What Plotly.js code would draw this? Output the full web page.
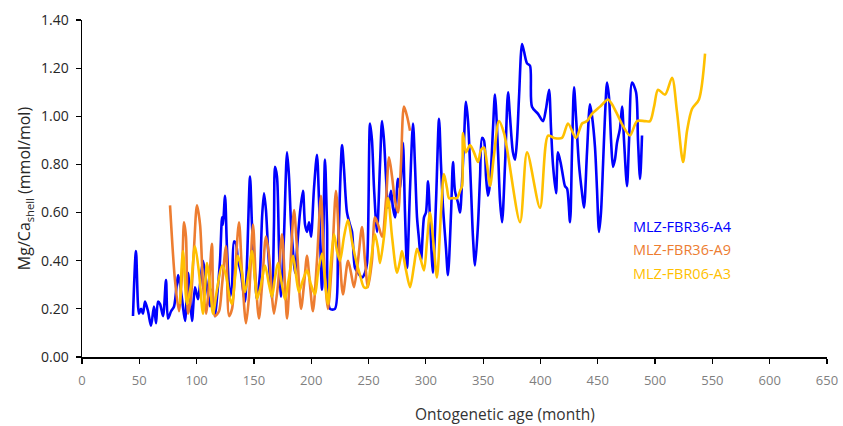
<!DOCTYPE html>
<html>
<head>
<meta charset="utf-8">
<script src="https://cdn.plot.ly/plotly-3.0.1.min.js"></script>
<style>
  html, body { margin: 0; padding: 0; background: #ffffff; }
  #chart { width: 843px; height: 426px; }
</style>
</head>
<body>
<div id="chart"></div>
<script>
// Mg/Ca ratios of shell carbonate against ontogenetic age, three specimens.

const seriesNames = ["MLZ-FBR36-A4", "MLZ-FBR36-A9", "MLZ-FBR06-A3"];
const seriesColors = ["#0000FF", "#ED7D31", "#FFC000"];

// MLZ-FBR36-A4
const ageA4 = [44.5, 47.1, 49.7, 51.5, 53.2, 55.0, 57.6, 60.2, 62.8, 64.6, 66.3, 68.1, 70.7, 73.3, 75.0, 77.7, 80.3, 83.8, 85.5, 87.3,
  89.9, 92.5, 94.2, 96.0, 98.6, 101.2, 103.0, 105.6, 108.2, 109.9, 111.7, 113.4, 116.0, 117.8, 120.4, 122.2, 123.0, 124.8, 126.5, 129.1,
  130.9, 132.6, 134.4, 136.1, 138.7, 140.5, 142.2, 144.0, 146.6, 148.3, 150.1, 152.7, 155.3, 157.1, 158.8, 160.5, 162.3, 164.0, 165.8, 167.5,
  168.4, 170.1, 171.9, 173.6, 176.2, 178.9, 180.6, 182.4, 184.1, 185.8, 187.6, 190.2, 192.8, 194.6, 196.3, 198.1, 199.8, 202.4, 205.0, 206.8,
  209.4, 212.0, 213.8, 216.4, 220.7, 223.4, 226.9, 228.6, 231.2, 233.8, 235.6, 238.2, 240.8, 244.3, 246.9, 248.7, 251.3, 253.0, 254.8, 257.4,
  260.0, 261.8, 263.5, 265.2, 267.0, 269.6, 271.3, 273.1, 275.7, 277.5, 279.2, 280.1, 281.8, 283.6, 286.2, 288.8, 290.5, 292.3, 294.0, 295.8,
  298.4, 300.1, 301.9, 303.6, 306.2, 308.9, 311.5, 313.2, 315.0, 317.6, 319.3, 322.0, 323.7, 325.4, 328.1, 329.8, 331.6, 333.3, 335.0, 336.8,
  339.4, 341.1, 342.9, 345.5, 347.3, 349.0, 350.7, 352.5, 354.2, 356.0, 358.6, 360.3, 363.0, 364.7, 366.5, 369.1, 371.7, 373.4, 376.0, 377.8,
  379.5, 381.3, 383.9, 385.6, 388.3, 390.9, 392.6, 397.9, 402.2, 404.8, 407.5, 409.2, 410.9, 413.6, 415.3, 417.9, 419.7, 421.4, 423.2, 425.8,
  427.5, 429.3, 431.0, 433.6, 436.3, 438.0, 440.6, 443.2, 445.0, 447.6, 449.3, 451.1, 452.8, 454.6, 456.3, 458.1, 459.8, 461.6, 463.3, 465.0,
  466.8, 469.4, 471.2, 472.9, 475.5, 477.3, 479.9, 483.4, 485.1, 486.9, 488.6];
const mgA4 = [0.17, 0.44, 0.18, 0.20, 0.18, 0.23, 0.19, 0.13, 0.21, 0.14, 0.23, 0.22, 0.17, 0.32, 0.16, 0.19, 0.21, 0.34, 0.30, 0.24,
  0.15, 0.35, 0.25, 0.15, 0.29, 0.24, 0.30, 0.40, 0.32, 0.26, 0.21, 0.28, 0.17, 0.25, 0.40, 0.58, 0.55, 0.67, 0.45, 0.25,
  0.30, 0.48, 0.47, 0.40, 0.35, 0.28, 0.23, 0.40, 0.75, 0.55, 0.40, 0.24, 0.35, 0.58, 0.68, 0.61, 0.45, 0.33, 0.24, 0.55,
  0.79, 0.75, 0.45, 0.25, 0.50, 0.85, 0.75, 0.55, 0.44, 0.35, 0.45, 0.60, 0.69, 0.55, 0.52, 0.56, 0.50, 0.70, 0.84, 0.65,
  0.28, 0.82, 0.55, 0.20, 0.20, 0.45, 0.88, 0.78, 0.60, 0.55, 0.52, 0.37, 0.35, 0.33, 0.35, 0.39, 0.97, 0.90, 0.70, 0.52,
  0.80, 0.98, 0.90, 0.75, 0.62, 0.69, 0.62, 0.58, 0.74, 0.70, 0.82, 0.89, 0.60, 0.37, 0.70, 0.97, 0.80, 0.58, 0.49, 0.40,
  0.58, 0.60, 0.73, 0.58, 0.35, 0.65, 0.99, 0.80, 0.62, 0.45, 0.34, 0.60, 0.81, 0.69, 0.64, 0.60, 0.73, 0.90, 1.06, 0.98,
  0.70, 0.50, 0.38, 0.55, 0.75, 0.91, 0.90, 0.75, 0.67, 0.72, 0.95, 1.09, 0.85, 0.65, 0.56, 0.80, 1.10, 1.00, 0.85, 0.82,
  0.90, 1.08, 1.30, 1.27, 1.22, 1.21, 1.04, 1.01, 0.98, 1.03, 1.11, 0.95, 0.80, 0.68, 0.85, 0.80, 0.75, 0.71, 0.70, 0.56,
  0.85, 1.12, 1.00, 0.80, 0.68, 0.62, 0.85, 1.05, 1.00, 0.87, 0.70, 0.52, 0.60, 0.80, 1.00, 1.14, 1.08, 0.90, 0.79, 0.82,
  0.89, 0.95, 1.04, 0.90, 0.71, 0.90, 1.14, 1.10, 0.90, 0.74, 0.92];

// MLZ-FBR36-A9
const ageA9 = [76.8, 81.1, 84.6, 87.3, 89.0, 90.7, 92.5, 95.1, 97.7, 100.3, 103.0, 105.6, 108.2, 110.8, 113.4, 116.0, 119.5, 122.2, 125.6, 128.3,
  130.9, 133.5, 137.0, 139.6, 143.1, 145.7, 149.2, 151.8, 154.4, 157.1, 160.5, 163.2, 165.8, 167.5, 171.0, 174.5, 177.1, 178.9, 181.5, 185.0,
  187.6, 191.1, 193.7, 196.3, 198.9, 201.5, 205.0, 208.5, 211.1, 214.6, 218.1, 221.6, 225.1, 227.7, 232.1, 234.7, 237.3, 240.8, 244.3, 246.9,
  249.5, 253.0, 255.6, 258.3, 261.8, 265.2, 267.9, 270.5, 273.1, 275.7, 278.3, 280.9, 283.6, 286.2];
const mgA9 = [0.63, 0.32, 0.19, 0.35, 0.56, 0.50, 0.18, 0.25, 0.45, 0.63, 0.55, 0.30, 0.18, 0.30, 0.47, 0.17, 0.19, 0.30, 0.46, 0.17,
  0.20, 0.35, 0.56, 0.35, 0.14, 0.25, 0.55, 0.30, 0.16, 0.30, 0.50, 0.42, 0.25, 0.18, 0.30, 0.51, 0.30, 0.16, 0.35, 0.61,
  0.45, 0.20, 0.30, 0.42, 0.30, 0.19, 0.40, 0.67, 0.40, 0.20, 0.40, 0.69, 0.40, 0.26, 0.40, 0.35, 0.29, 0.40, 0.54, 0.40,
  0.29, 0.40, 0.58, 0.55, 0.50, 0.65, 0.83, 0.75, 0.65, 0.60, 0.80, 1.04, 1.00, 0.94];

// MLZ-FBR06-A3
const ageA3 = [85.5, 88.1, 91.6, 95.1, 98.6, 102.1, 105.6, 109.1, 111.7, 114.3, 117.8, 122.2, 125.6, 129.1, 130.9, 133.5, 136.1, 139.6, 142.2, 145.7,
  148.3, 150.9, 152.7, 156.2, 159.7, 163.2, 165.8, 168.4, 171.0, 174.5, 177.1, 180.6, 184.1, 186.7, 189.3, 192.8, 196.3, 199.8, 203.3, 205.9,
  209.4, 212.0, 214.6, 217.3, 219.9, 222.5, 225.1, 228.6, 232.1, 235.6, 239.1, 242.6, 246.0, 248.7, 252.2, 255.6, 258.3, 260.0, 263.5, 267.0,
  270.5, 274.8, 277.5, 279.2, 282.7, 286.2, 289.7, 292.3, 295.8, 298.4, 301.0, 303.6, 307.1, 309.7, 313.2, 315.8, 318.5, 320.2, 323.7, 327.2,
  329.8, 331.6, 332.4, 335.0, 338.5, 342.0, 345.5, 348.1, 350.7, 353.4, 356.0, 359.5, 363.8, 368.2, 382.2, 388.3, 399.6, 406.6, 411.8, 418.8,
  424.0, 431.0, 436.3, 440.6, 445.0, 452.0, 458.9, 462.4, 466.8, 472.0, 478.1, 484.2, 491.2, 495.6, 499.1, 502.6, 508.7, 514.8, 519.1, 524.4,
  527.9, 532.2, 538.3, 543.6];
const mgA3 = [0.22, 0.44, 0.22, 0.30, 0.46, 0.35, 0.18, 0.39, 0.30, 0.18, 0.28, 0.38, 0.34, 0.24, 0.22, 0.33, 0.42, 0.35, 0.27, 0.36,
  0.44, 0.32, 0.24, 0.30, 0.38, 0.30, 0.25, 0.33, 0.39, 0.30, 0.24, 0.33, 0.42, 0.34, 0.27, 0.32, 0.36, 0.30, 0.26, 0.35,
  0.43, 0.32, 0.22, 0.40, 0.51, 0.44, 0.40, 0.50, 0.57, 0.48, 0.40, 0.34, 0.29, 0.29, 0.40, 0.51, 0.45, 0.39, 0.50, 0.66,
  0.50, 0.35, 0.40, 0.44, 0.36, 0.29, 0.38, 0.45, 0.40, 0.36, 0.48, 0.60, 0.45, 0.33, 0.60, 0.76, 0.70, 0.66, 0.66, 0.66,
  0.69, 0.71, 0.93, 0.85, 0.88, 0.85, 0.81, 0.86, 0.87, 0.80, 0.71, 0.84, 0.98, 0.93, 0.56, 0.85, 0.62, 0.92, 0.91, 0.91,
  0.97, 0.91, 0.97, 0.98, 1.01, 1.04, 1.07, 1.05, 1.01, 0.96, 0.92, 0.98, 0.98, 0.98, 1.04, 1.11, 1.09, 1.16, 1.02, 0.81,
  0.94, 1.03, 1.07, 1.26];

const yTickVals = [0, 0.2, 0.4, 0.6, 0.8, 1.0, 1.2, 1.4];
const xTickVals = [0, 50, 100, 150, 200, 250, 300, 350, 400, 450, 500, 550, 600, 650];

const ages = [ageA4, ageA9, ageA3];
const values = [mgA4, mgA9, mgA3];

// smoothed lines, one per specimen
const traces = seriesNames.map((name, i) => ({
  type: "scatter",
  mode: "lines",
  name: name,
  x: ages[i],
  y: values[i],
  line: { color: seriesColors[i], width: 2.6, shape: "spline", smoothing: 0.8 },
  hoverinfo: "x+y+name"
}));

const font = "'Open Sans', 'Noto Sans', sans-serif";

// coloured series labels standing in for the legend
const labels = seriesNames.map((name, i) => ({
  xref: "paper", yref: "paper",
  x: (631 - 82) / 745, y: 0.388 - i * 0.07,
  xanchor: "left", yanchor: "middle",
  text: name, showarrow: false,
  font: { family: font, size: 14.5, color: seriesColors[i] }
}));

labels.push({
  xref: "paper", yref: "paper",
  x: 0.568, y: -0.168,
  xanchor: "center", yanchor: "middle",
  text: "Ontogenetic age (month)", showarrow: false,
  font: { family: font, size: 15.5, color: "#333333" }
});

const layout = {
  width: 843, height: 426,
  margin: { l: 82, r: 16, t: 20, b: 69 },
  paper_bgcolor: "#ffffff", plot_bgcolor: "#ffffff",
  showlegend: false,
  font: { family: font },
  xaxis: {
    range: [0, 650], tickvals: xTickVals, ticktext: xTickVals.map(String),
    showgrid: false, zeroline: false,
    showline: true, linecolor: "#000000", linewidth: 1.5,
    ticks: "outside", ticklen: 5, tickcolor: "#000000", tickwidth: 1.2,
    ticklabelstandoff: 6,
    tickfont: { family: font, size: 13, color: "#7f7f7f" }
  },
  yaxis: {
    range: [0, 1.4], tickvals: yTickVals, ticktext: yTickVals.map(v => v.toFixed(2)),
    showgrid: false, zeroline: false,
    showline: true, linecolor: "#000000", linewidth: 1.5,
    ticks: "outside", ticklen: 5, tickcolor: "#000000", tickwidth: 1.2,
    ticklabelstandoff: 4,
    tickfont: { family: font, size: 14, color: "#262626" },
    title: {
      text: "Mg/Ca<sub>shell</sub> (mmol/mol)",
      standoff: 6,
      font: { family: font, size: 16, color: "#262626" }
    }
  },
  annotations: labels
};

Plotly.newPlot("chart", traces, layout, { displayModeBar: false, staticPlot: true });
</script>
</body>
</html>
